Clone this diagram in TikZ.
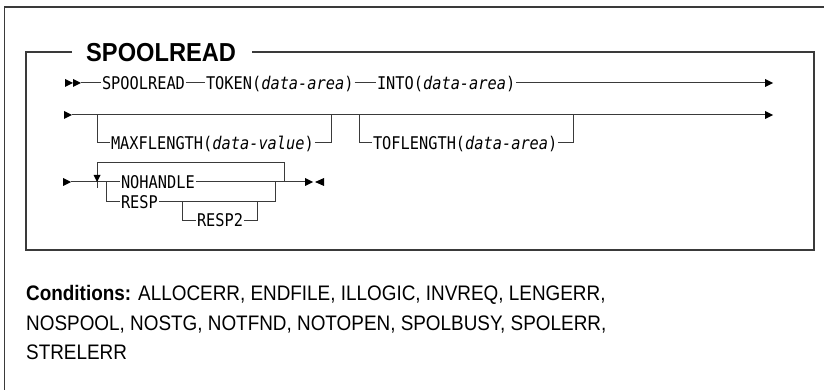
\documentclass[tikz,border=0pt]{standalone}
\usepackage{fontspec}
\setmainfont{Liberation Sans}
\newfontfamily\synfont{DejaVu Sans Mono}
\newcommand{\narrowsyn}[1]{\scalebox{0.875}[1]{#1}}
\newcommand{\narrowcond}[1]{\scalebox{0.9}[1]{#1}}
\definecolor{ln}{HTML}{3A3A3A}
\begin{document}
\begin{tikzpicture}[x=1pt,y=-1pt,
  syn/.style={font=\synfont\fontsize{17.5}{18}\selectfont, inner xsep=0.8pt, inner ysep=0pt,
              text height=12.8pt, text depth=0pt, anchor=west},
  rail/.style={draw=ln, line width=1pt},
  frame/.style={draw=ln, line width=1.5pt},
  tip/.style={fill=black},
  cond/.style={font=\fontsize{21}{22}\selectfont, anchor=base west, inner sep=0pt}]
\useasboundingbox (0,0) rectangle (824,390);

% outer frame (cut by the picture's edges)
\coordinate (ofb) at (4.5,390);
\coordinate (oft) at (4.5,7);
\coordinate (ofr) at (824,7);
\draw[frame] (ofb) -- (oft) -- (ofr);

% inner box with title
\node[font=\bfseries\fontsize{26}{26}\selectfont, anchor=west, inner sep=0pt,
      text height=18.6pt, text depth=0pt] (title) at (86,52.5) {\scalebox{0.91}[1]{SPOOLREAD}};
\coordinate (btl1) at (72,52);
\coordinate (btl) at (26,52);
\coordinate (bbl) at (26,250);
\coordinate (bbr) at (814,250);
\coordinate (btr) at (814,52);
\coordinate (btl2) at (252,52);
\draw[frame] (btl1) -- (btl) -- (bbl) -- (bbr) -- (btr) -- (btl2);

% ---------- row 1 ----------
\coordinate (r1b) at (73,83);
\coordinate (r1s) at (81,83);
\coordinate (r1e) at (773,83);
\fill[tip] (r1b) -- ++(-8,-4) -- ++(0,8) -- cycle;
\fill[tip] (r1s) -- ++(-8,-4) -- ++(0,8) -- cycle;
\node[syn] (spr) at (101,83) {\narrowsyn{SPOOLREAD}};
\node[syn] (tok) at (205,83) {\narrowsyn{TOKEN(\textit{data-area})}};
\node[syn] (into) at (376,83) {\narrowsyn{INTO(\textit{data-area})}};
\draw[rail] (r1s) -- (spr.west);
\draw[rail] (spr.east) -- (tok.west);
\draw[rail] (tok.east) -- (into.west);
\draw[rail] (into.east) -- ([xshift=-7pt]r1e);
\fill[tip] (r1e) -- ++(-8,-4) -- ++(0,8) -- cycle;

% ---------- row 2 ----------
\coordinate (r2s) at (72,115);
\coordinate (r2e) at (773,115);
\fill[tip] (r2s) -- ++(-8,-4) -- ++(0,8) -- cycle;
\draw[rail] (r2s) -- ([xshift=-7pt]r2e);
\fill[tip] (r2e) -- ++(-8,-4) -- ++(0,8) -- cycle;
\node[syn] (maxf) at (110,143) {\narrowsyn{MAXFLENGTH(\textit{data-value})}};
\node[syn] (tofl) at (372,143) {\narrowsyn{TOFLENGTH(\textit{data-area})}};
\coordinate (m1) at (97,115);
\coordinate (m2) at (331,115);
\coordinate (t1) at (359,115);
\coordinate (t2) at (573,115);
\draw[rail] (m1) |- (maxf.west);
\draw[rail] (maxf.east) -| (m2);
\draw[rail] (t1) |- (tofl.west);
\draw[rail] (tofl.east) -| (t2);

% ---------- row 3 ----------
\coordinate (r3s) at (71,182);
\fill[tip] (r3s) -- ++(-8,-4) -- ++(0,8) -- cycle;
\node[syn] (noh) at (120,182) {\narrowsyn{NOHANDLE}};
\node[syn] (resp) at (120,202) {\narrowsyn{RESP}};
\node[syn] (resp2) at (196,220) {\narrowsyn{RESP2}};
\coordinate (r3e) at (305,182);
\draw[rail] (r3s) -- (noh.west);
\draw[rail] (noh.east) -- (r3e);
% end marks
\coordinate (endA) at (313,182);
\coordinate (endB) at (315,182);
\fill[tip] (endA) -- ++(-8,-4) -- ++(0,8) -- cycle;
\fill[tip] (endB) -- ++(9,-4) -- ++(0,8) -- cycle;
% repeat loop
\coordinate (lpA) at (97,182);
\coordinate (lpT) at (97,163);
\coordinate (lpB) at (284,182);
\draw[rail] (lpB) |- (lpT) -- ([yshift=-6pt]lpA);
\fill[tip] (lpA) -- ++(-3.5,-7) -- ++(7,0) -- cycle;
% choice
\coordinate (c1) at (106,182);
\coordinate (c2) at (275,182);
\draw[rail] (c1) |- (resp.west);
\draw[rail] (resp.east) -| (c2);
% RESP2 option
\coordinate (o1) at (182,202);
\coordinate (o2) at (257,202);
\draw[rail] (o1) |- (resp2.west);
\draw[rail] (resp2.east) -| (o2);

% ---------- conditions ----------
\node[cond] (cond1) at (26,300) {\narrowcond{\textbf{Conditions:} ALLOCERR, ENDFILE, ILLOGIC, INVREQ, LENGERR,}};
\node[cond] (cond2) at (26,330) {\narrowcond{NOSPOOL, NOSTG, NOTFND, NOTOPEN, SPOLBUSY, SPOLERR,}};
\node[cond] (cond3) at (26,359) {\narrowcond{STRELERR}};
\end{tikzpicture}
\end{document}
